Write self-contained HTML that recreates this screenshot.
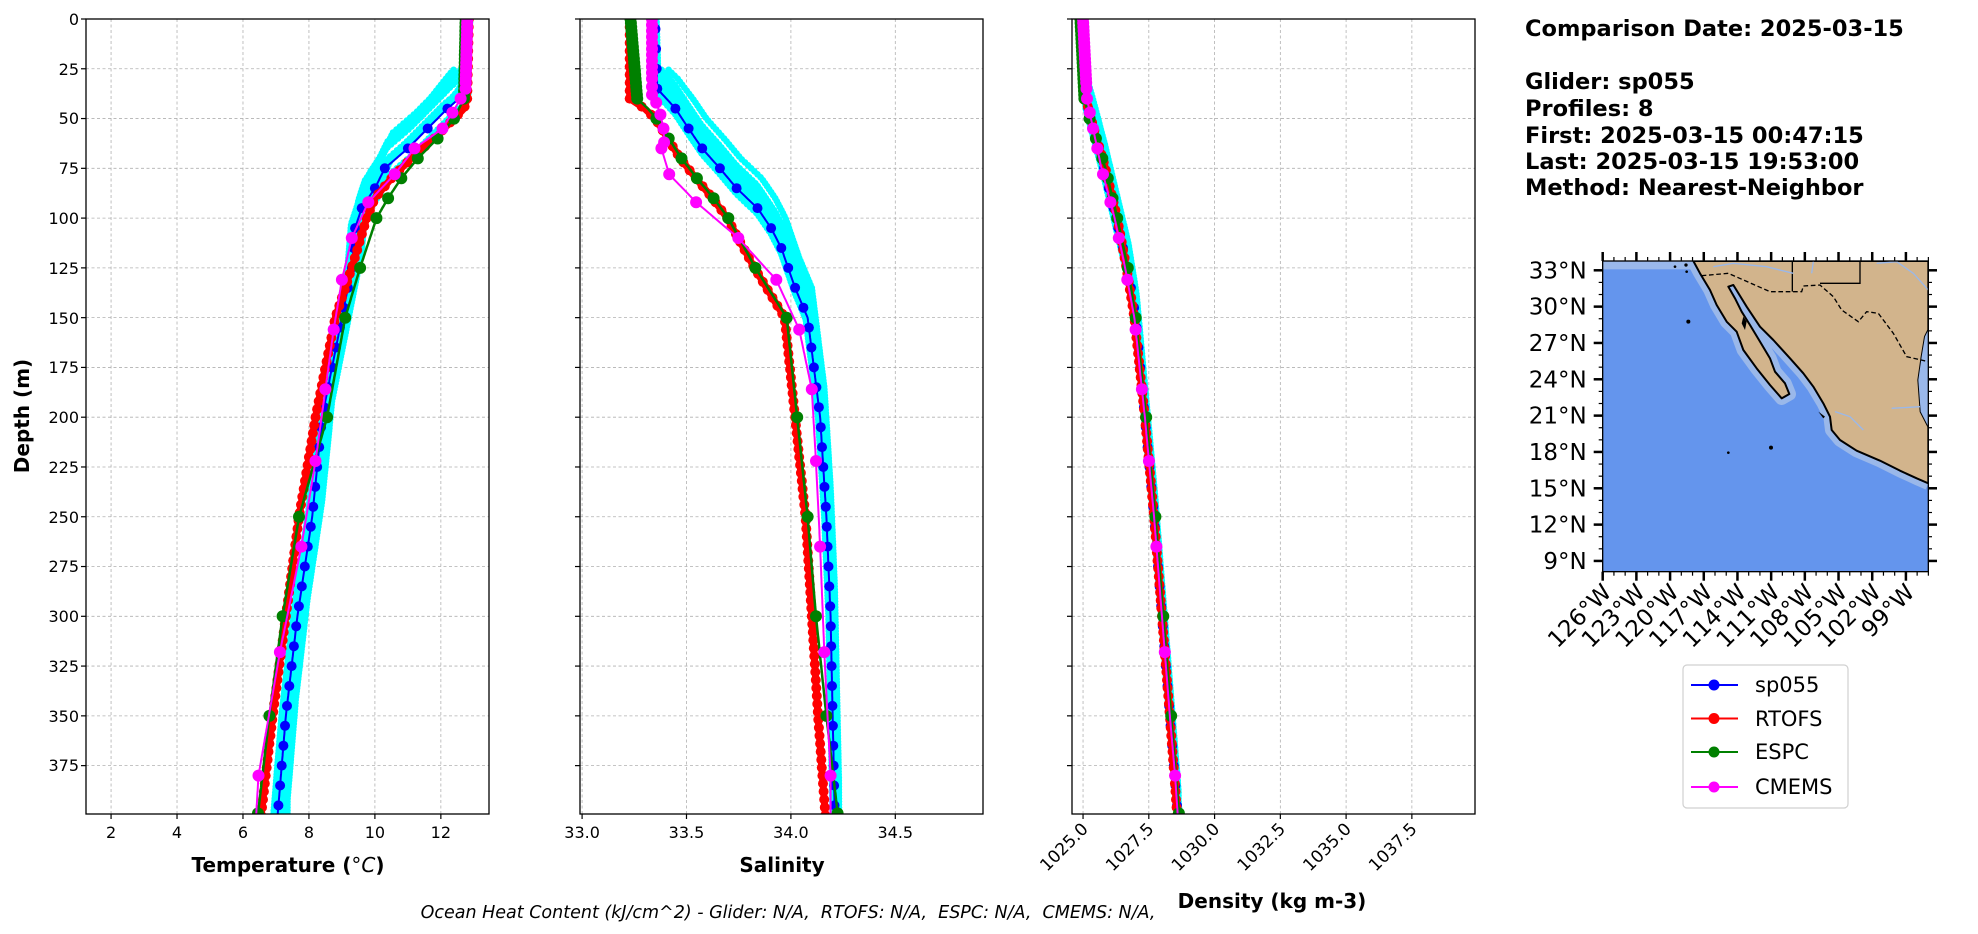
<!DOCTYPE html>
<html><head><meta charset="utf-8"><style>
html,body{margin:0;padding:0;background:#fff}
svg{display:block;font-family:"DejaVu Sans","Liberation Sans",sans-serif}
</style></head><body>
<svg id="s" width="1978" height="934" xmlns="http://www.w3.org/2000/svg">
<defs>
<clipPath id="c1"><rect x="86" y="19" width="403" height="795"/></clipPath>
<clipPath id="c2"><rect x="580" y="19" width="403" height="795"/></clipPath>
<clipPath id="c3"><rect x="1072" y="19" width="403" height="795"/></clipPath>
<clipPath id="cm"><rect x="368" y="93" width="977" height="932"/></clipPath>
</defs>
<g id="grid" stroke="#b0b0b0" stroke-width="0.8" stroke-dasharray="3,2.5"></g>
<g id="data"></g>
<g id="axes" fill="none" stroke="#000" stroke-width="1.3">
<rect x="86" y="19" width="403" height="795"/>
<rect x="580" y="19" width="403" height="795"/>
<rect x="1072" y="19" width="403" height="795"/>
</g>
<g id="ticks" stroke="#000" stroke-width="1.2"></g>
<g font-size="16" text-anchor="end" fill="#000">
<text x="79" y="25">0</text><text x="79" y="75">25</text><text x="79" y="124">50</text><text x="79" y="174">75</text>
<text x="79" y="224">100</text><text x="79" y="274">125</text><text x="79" y="324">150</text><text x="79" y="373">175</text>
<text x="79" y="423">200</text><text x="79" y="473">225</text><text x="79" y="523">250</text><text x="79" y="572">275</text>
<text x="79" y="622">300</text><text x="79" y="672">325</text><text x="79" y="722">350</text><text x="79" y="771">375</text>
</g>
<g font-size="16" text-anchor="middle" id="xt"></g>
<text x="29" y="416" font-size="20" font-weight="bold" text-anchor="middle" transform="rotate(-90 29 416)">Depth (m)</text>
<text x="288" y="872" font-size="20" font-weight="bold" text-anchor="middle">Temperature (<tspan font-style="italic" font-weight="normal">°C</tspan>)</text>
<text x="782" y="872" font-size="20" font-weight="bold" text-anchor="middle">Salinity</text>
<text x="1272" y="908" font-size="20" font-weight="bold" text-anchor="middle">Density (kg m-3)</text>
<text x="788" y="918" font-size="17.5" font-style="italic" text-anchor="middle" xml:space="preserve">Ocean Heat Content (kJ/cm^2) - Glider: N/A,  RTOFS: N/A,  ESPC: N/A,  CMEMS: N/A,</text>
<g font-size="22.5" font-weight="bold">
<text x="1525" y="36">Comparison Date: 2025-03-15</text>
<text x="1525" y="89">Glider: sp055</text>
<text x="1525" y="116">Profiles: 8</text>
<text x="1525" y="143">First: 2025-03-15 00:47:15</text>
<text x="1525" y="169">Last: 2025-03-15 19:53:00</text>
<text x="1525" y="195">Method: Nearest-Neighbor</text>
</g>
<!-- map -->
<g transform="translate(1480,230) scale(0.33333)">
<g clip-path="url(#cm)">
<rect x="368" y="93" width="977" height="932" fill="#6495ed"/>
<rect x="368" y="93" width="300" height="25" fill="#9ab8ea"/>
<path d="M640,93 L660,130 L690,180 L710,225 L740,275 L770,305 L790,360 L830,415 L870,465 L905,505 L928,492 L915,460 L885,425 L870,385 L840,335 L810,285 L785,245 L765,205 L745,170 L760,165 L800,230 L840,290 L880,330 L930,385 L970,430 L1000,470 L1030,520 L1050,560 L1055,600 L1080,630 L1130,662 L1200,692 L1260,722 L1310,745 L1345,760" fill="none" stroke="#9ab8ea" stroke-width="40" stroke-linejoin="round"/>
<path d="M640,93 L660,130 L690,180 L710,225 L740,275 L770,305 L790,360 L830,415 L870,465 L905,505 L928,492 L915,460 L885,425 L870,385 L840,335 L810,285 L785,245 L765,205 L745,170 L760,165 L800,230 L840,290 L880,330 L930,385 L970,430 L1000,470 L1030,520 L1050,560 L1055,600 L1080,630 L1130,662 L1200,692 L1260,722 L1310,745 L1345,760 L1345,590 L1322,545 L1315,450 L1325,380 L1335,320 L1345,300 L1345,93 Z" fill="#d2b48c" stroke="#000" stroke-width="6" stroke-linejoin="round"/>
<path d="M1345,300 L1335,320 L1325,380 L1315,450 L1322,545 L1345,590 Z" fill="#9ab8ea"/>
<path d="M665,137 L745,130 L870,185 L965,185 L970,168 L1020,165 L1060,200 L1085,240 L1135,275 L1160,245 L1195,250 L1240,310 L1280,380 L1345,395" fill="none" stroke="#000" stroke-width="4" stroke-dasharray="14,8"/>
<path d="M937,93 L937,185 M1140,93 L1140,160 L1020,160" fill="none" stroke="#000" stroke-width="4"/>
<path d="M700,110 L760,100 L860,110 L940,130 M1000,95 L995,130 M1190,100 L1250,95 L1300,130 L1345,180 M1065,545 L1110,560 L1150,600 M1235,535 L1320,530" fill="none" stroke="#9ab8ea" stroke-width="4"/>
<circle cx="625" cy="275" r="6" fill="#000"/><circle cx="873" cy="653" r="6" fill="#000"/><circle cx="745" cy="668" r="4" fill="#000"/>
<circle cx="585" cy="110" r="4" fill="#000"/><circle cx="618" cy="105" r="5" fill="#000"/><circle cx="620" cy="125" r="4" fill="#000"/>
<path d="M790,260 L800,275 L795,300 L785,280 Z M1015,545 L1035,560 L1030,565 Z" fill="#000"/>
</g>
<rect x="368" y="93" width="977" height="932" fill="none" stroke="#000" stroke-width="4"/>
</g>
<g id="mt" stroke="#000"></g>
<g font-size="23" text-anchor="end" id="mlab"></g>
<!-- legend -->
<g>
<rect x="1683" y="665" width="165" height="143" rx="4" fill="#fff" stroke="#d0d0d0" stroke-width="1.2"/>
<line x1="1691" y1="685" x2="1738" y2="685" stroke="#0000ff" stroke-width="2"/><circle cx="1714" cy="685" r="5.5" fill="#0000ff"/>
<line x1="1691" y1="718.5" x2="1738" y2="718.5" stroke="#ff0000" stroke-width="2"/><circle cx="1714" cy="718.5" r="5.5" fill="#ff0000"/>
<line x1="1691" y1="752" x2="1738" y2="752" stroke="#008000" stroke-width="2"/><circle cx="1714" cy="752" r="5.5" fill="#008000"/>
<line x1="1691" y1="787" x2="1738" y2="787" stroke="#ff00ff" stroke-width="2"/><circle cx="1714" cy="787" r="5.5" fill="#ff00ff"/>
<g font-size="21"><text x="1755" y="692">sp055</text><text x="1755" y="726">RTOFS</text><text x="1755" y="759">ESPC</text><text x="1755" y="794">CMEMS</text></g>
</g>
</svg>
<script>
var NS="http://www.w3.org/2000/svg";
function el(p,t,a,txt){var e=document.createElementNS(NS,t);for(var k in a)e.setAttribute(k,a[k]);if(txt!==undefined)e.textContent=txt;p.appendChild(e);return e;}
var grid=document.getElementById('grid'),ticks=document.getElementById('ticks'),data=document.getElementById('data'),xt=document.getElementById('xt');
function yD(d){return 19+d*1.991;}
var P=[{x0:86,lo:1.24,hi:13.46,t:[2,4,6,8,10,12],f:function(v){return ''+v},rot:false,c:'c1'},
{x0:580,lo:32.99,hi:34.92,t:[33,33.5,34,34.5],f:function(v){return v.toFixed(1)},rot:false,c:'c2'},
{x0:1072,lo:1024.58,hi:1039.9,t:[1025,1027.5,1030,1032.5,1035,1037.5],f:function(v){return v.toFixed(1)},rot:true,c:'c3'}];
P.forEach(function(p){p.fx=function(v){return p.x0+(v-p.lo)/(p.hi-p.lo)*403;};
 for(var d=0;d<=375;d+=25){var y=yD(d);el(grid,'line',{x1:p.x0,x2:p.x0+403,y1:y,y2:y});el(ticks,'line',{x1:p.x0-5,x2:p.x0,y1:y,y2:y});}
 p.t.forEach(function(v){var x=p.fx(v);el(grid,'line',{x1:x,x2:x,y1:19,y2:814});el(ticks,'line',{x1:x,x2:x,y1:814,y2:819});
  if(p.rot){el(xt,'text',{x:x+6,y:830,'text-anchor':'end','font-size':17,transform:'rotate(-45 '+(x+6)+' 830)'},p.f(v));}
  else el(xt,'text',{x:x,y:838},p.f(v));});
});
function I(a,d){if(d<=a[0][0])return a[0][1];for(var i=1;i<a.length;i++){if(d<=a[i][0]){var t=(d-a[i-1][0])/(a[i][0]-a[i-1][0]);return a[i-1][1]+t*(a[i][1]-a[i-1][1]);}}return a[a.length-1][1];}
var S=[
{b:[[0,12.8],[35,12.7],[40,12.55],[45,12.2],[55,11.6],[65,11.0],[75,10.3],[85,10.0],[95,9.6],[105,9.4],[115,9.35],[125,9.3],[150,9.0],[200,8.4],[250,8.1],[300,7.65],[350,7.3],[400,7.05]],
 r:[[0,12.85],[40,12.8],[45,12.7],[50,12.4],[60,11.8],[70,11.1],[80,10.5],[90,10.0],[100,9.75],[125,9.3],[150,8.8],[200,8.2],[250,7.7],[300,7.3],[350,6.9],[400,6.55]],
 g:[[0,12.75],[40,12.7],[50,12.4],[60,11.9],[70,11.3],[80,10.8],[90,10.4],[100,10.05],[125,9.55],[150,9.1],[200,8.55],[250,7.7],[300,7.2],[350,6.8],[400,6.45]],
 m:[[0,12.8],[35,12.75],[40,12.6],[47,12.35],[55,12.05],[65,11.2],[78,10.6],[92,9.8],[110,9.3],[131,9.0],[156,8.75],[186,8.5],[222,8.2],[265,7.77],[318,7.12],[380,6.47],[400,6.4]],
 cy:[[0,-0.1],[5,0.2],[10,0.05],[18,0.25],[-3,0.15],[2,-0.12],[8,0.3],[14,0.1]],sc:1},
{b:[[0,33.35],[35,33.36],[45,33.447],[55,33.51],[65,33.575],[75,33.66],[85,33.74],[95,33.84],[105,33.905],[115,33.954],[125,33.987],[135,34.02],[150,34.08],[200,34.14],[250,34.17],[300,34.19],[350,34.2],[400,34.21]],
 r:[[0,33.228],[40,33.228],[45,33.3],[50,33.35],[60,33.41],[70,33.47],[80,33.545],[90,33.625],[100,33.695],[125,33.825],[150,33.97],[200,34.02],[250,34.07],[300,34.1],[350,34.13],[400,34.165]],
 g:[[0,33.232],[40,33.264],[45,33.315],[50,33.356],[60,33.415],[70,33.476],[80,33.55],[90,33.63],[100,33.70],[125,33.83],[150,33.98],[200,34.03],[250,34.08],[300,34.12],[350,34.17],[400,34.225]],
 m:[[0,33.335],[38,33.335],[42,33.355],[48,33.375],[55,33.39],[62,33.393],[65,33.38],[78,33.417],[92,33.546],[110,33.748],[131,33.93],[156,34.04],[186,34.1],[222,34.12],[265,34.14],[318,34.16],[380,34.19],[400,34.19]],
 cy:[[0,-0.01],[5,0.015],[10,0.005],[15,0.02],[-3,0.0],[2,0.01],[8,0.02],[12,-0.005]],sc:1},
{b:[[0,1024.95],[40,1025.1],[50,1025.3],[75,1025.8],[100,1026.25],[125,1026.7],[150,1027.0],[200,1027.35],[250,1027.7],[300,1028.0],[350,1028.3],[400,1028.6]],
 r:[[0,1024.95],[40,1025.1],[50,1025.3],[75,1025.85],[100,1026.3],[125,1026.65],[150,1026.95],[200,1027.35],[250,1027.7],[300,1028.0],[350,1028.3],[400,1028.58]],
 g:[[0,1024.9],[40,1025.05],[50,1025.25],[75,1025.85],[100,1026.3],[125,1026.7],[150,1027.0],[200,1027.4],[250,1027.75],[300,1028.05],[350,1028.35],[400,1028.65]],
 m:[[0,1025.0],[40,1025.15],[50,1025.3],[75,1025.7],[100,1026.2],[125,1026.6],[150,1026.95],[200,1027.35],[250,1027.7],[300,1028.0],[350,1028.3],[380,1028.5],[400,1028.6]],
 cy:[[-3,0.02],[3,0.04],[6,-0.03],[0,0.05],[9,0.01],[-5,0.0],[12,0.03],[2,0.06]],sc:1}];
var gm=[0,2,4,6,8,10,12,14,16,18,20,22,24,26,28,30,32,34,36,38,40,50,60,70,80,90,100,125,150,200,250,300,350,399];
var mm=[0,2,4,6,8,10,12,14,16,18,20,22,24,26,28,30,32,35,40,47,55,65,78,92,110,131,156,186,222,265,318,380];
var mmS=[0,3,6,9,12,15,18,21,24,27,30,34,38,42,48,55,62,65,78,92,110,131,156,186,222,265,318,380];
function line(g,arr,fx,col,w,maxD){var pts=[];for(var d=0;d<=maxD;d+=1)pts.push(fx(I(arr,d)).toFixed(1)+','+yD(d).toFixed(1));el(g,'polyline',{points:pts.join(' '),fill:'none',stroke:col,'stroke-width':w,'stroke-linejoin':'round'});}
function dots(g,arr,fx,col,r,ds){ds.forEach(function(d){el(g,'circle',{cx:fx(I(arr,d)).toFixed(1),cy:yD(d).toFixed(1),r:r,fill:col});});}
P.forEach(function(p,i){var s=S[i];var g=el(data,'g',{'clip-path':'url(#'+p.c+')'});
 var cg=el(g,'g',{fill:'#00ffff'});
 s.cy.forEach(function(c){for(var d=0;d<=400;d+=1.5){var f=d<25?0.3:(d<40?0.3+0.7*(d-25)/15:1);var dd=Math.max(0,d+c[0]*(d<25?0:1));var v=I(s.b,dd)+c[1]*f;el(cg,'circle',{cx:p.fx(v).toFixed(1),cy:yD(d).toFixed(1),r:3.3});}});
 line(g,s.b,p.fx,'#0000ff',2,400);var bd=[];for(var d=5;d<=400;d+=10)bd.push(d);dots(g,s.b,p.fx,'#0000ff',5,bd);
 line(g,s.r,p.fx,'#ff0000',7,400);var rd=[];for(var d=0;d<=400;d+=4)rd.push(d);dots(g,s.r,p.fx,'#ff0000',5,rd);
 line(g,s.g,p.fx,'#008000',2.5,400);dots(g,s.g,p.fx,'#008000',6,gm);
 line(g,s.m,p.fx,'#ff00ff',2,400);dots(g,s.m,p.fx,'#ff00ff',6,i==1?mmS:mm);
});
var mt=document.getElementById('mt'),ml=document.getElementById('mlab');
var L=1602.7,R=1928,T=261,B=571.7;
function ly(l){return 270.3+(33-l)*12.11;}function lx(o){return 1602.7+(o+126)*11.23;}
for(var l=9;l<=33;l++){var y=ly(l),mj=(l%3==0);var len=mj?9:4,w=mj?2.5:1.2;
 el(mt,'line',{x1:L-len,x2:L,y1:y,y2:y,'stroke-width':w});el(mt,'line',{x1:R,x2:R+len,y1:y,y2:y,'stroke-width':w});
 if(mj)el(ml,'text',{x:L-16,y:y+8},l+'°N');}
for(var o=-126;o<=-97;o++){var x=lx(o),mj=((o+126)%3==0);var len=mj?9:4,w=mj?2.5:1.2;
 el(mt,'line',{x1:x,x2:x,y1:B,y2:B+len,'stroke-width':w});el(mt,'line',{x1:x,x2:x,y1:T-len,y2:T,'stroke-width':w});
 if(mj)el(ml,'text',{x:x+10,y:B+22,transform:'rotate(-45 '+(x+10)+' '+(B+22)+')'},(-o)+'°W');}
</script>
</body></html>
